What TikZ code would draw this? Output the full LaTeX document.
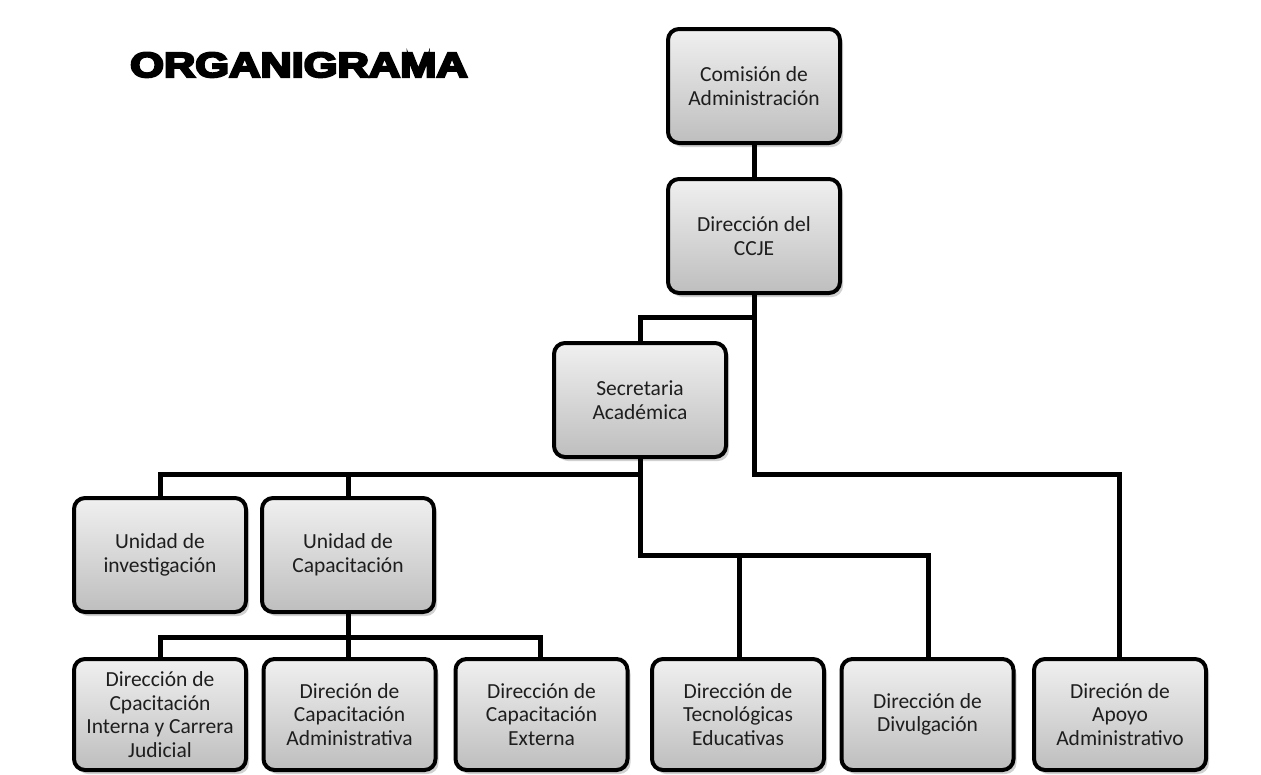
\documentclass[tikz,border=0pt]{standalone}
\usepackage{fontspec}
\setmainfont{Carlito}
\newfontfamily\titlefont[FakeBold=6]{Liberation Sans Bold}
\usetikzlibrary{shadows,backgrounds}
\definecolor{boxtext}{HTML}{1E1E1E}
\definecolor{boxtop}{HTML}{F0F0F0}
\definecolor{boxbot}{HTML}{BEBEBE}
\tikzset{
  orgbox/.style={rectangle, rounded corners=11pt, draw=black, line width=4pt,
    top color=boxtop, bottom color=boxbot, minimum width=172pt, minimum height=114pt,
    inner sep=0pt, align=center, text=boxtext,
    font=\fontsize{21.5}{23.5}\selectfont,
    drop shadow={shadow xshift=3pt, shadow yshift=-4pt, opacity=0.18, fill=black}},
  lowbox/.style={orgbox, minimum height=111pt},
  conn/.style={line width=5pt, draw=black, line cap=rect},
  titlestyle/.style={anchor=base west, inner sep=0pt}
}
\begin{document}
\begin{tikzpicture}[x=1pt,y=-1pt]
\useasboundingbox (0,0) rectangle (1261,774);
\node[titlestyle] (title) at (130,77)
  {\scalebox{1.24}[1]{\titlefont\fontsize{35}{38}\selectfont ORGANIGRAMA}};
% boxes
\node[orgbox] (com) at (754,86) {Comisión de\\Administración};
\node[orgbox] (ccje) at (754,236) {Dirección del\\CCJE};
\node[orgbox] (sec) at (640,400) {Secretaria\\Académica};
\node[orgbox] (ui) at (160,555) {Unidad de\\investigación};
\node[orgbox] (uc) at (348,555) {Unidad de\\Capacitación};
\node[lowbox] (d1) at (160,714.5) {Dirección de\\Cpacitación\\Interna y Carrera\\Judicial};
\node[lowbox] (d2) at (349.5,714.5) {Direción de\\Capacitación\\Administrativa};
\node[lowbox] (d3) at (541.5,714.5) {Dirección de\\Capacitación\\Externa};
\node[lowbox] (d4) at (738,714.5) {Dirección de\\Tecnológicas\\Educativas};
\node[lowbox] (d5) at (927.5,714.5) {Dirección de\\Divulgación};
\node[lowbox] (d6) at (1120,714.5) {Direción de\\Apoyo\\Administrativo};
% junction coordinates
\coordinate (j1) at (754,317);
\coordinate (j2) at (640,474);
\coordinate (j3) at (640,555);
\coordinate (j4) at (348,637);
\coordinate (t6) at (1119,657);
\coordinate (t4) at (739,657);
\coordinate (t5) at (928,657);
\coordinate (t3) at (540,657);
\begin{scope}[on background layer]
\draw[conn] (com.center) -- (ccje.center);
\draw[conn] (ccje.center) -- (j1) -| (sec.center);
\draw[conn] (j1) |- (1119,474) -- (t6);
\draw[conn] (sec.center) -- (j3);
\draw[conn] (j2) -| (ui.center);
\draw[conn] (uc.center) -- (uc.center |- j2);
\draw[conn] (j3) -| (t5);
\draw[conn] (t4) -- (739,555);
\draw[conn] (uc.center) -- (j4);
\draw[conn] (d1.center) |- (j4) -| (t3);
\draw[conn] (j4) -- (d2.center -| j4);
\end{scope}
\end{tikzpicture}
\end{document}
